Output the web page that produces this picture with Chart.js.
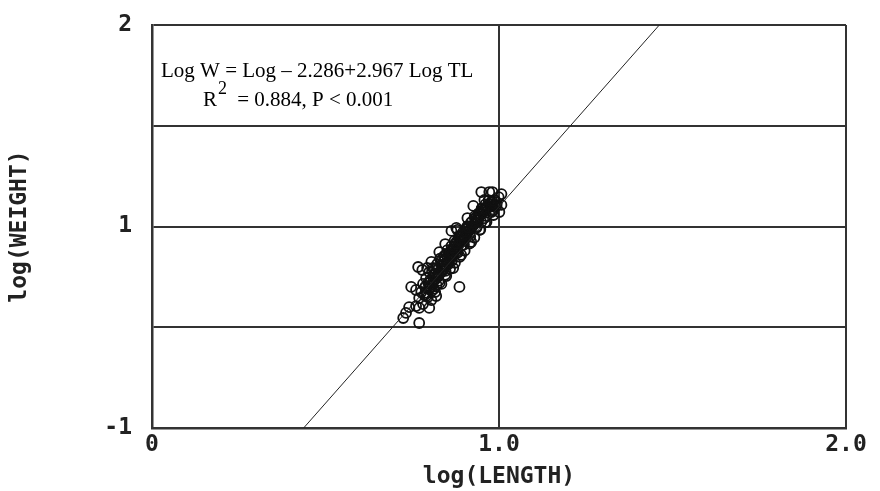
<!DOCTYPE html>
<html>
<head>
<meta charset="utf-8">
<script src="https://cdn.jsdelivr.net/npm/chart.js@4.4.1/dist/chart.umd.min.js"></script>
<style>
  html, body { margin: 0; padding: 0; background: #fff; }
  #wrap { width: 880px; height: 491px; }
</style>
</head>
<body>
<div id="wrap"><canvas id="lw"></canvas></div>
<script>
// observed fish: log(length), log(weight) as plotted
var lenX = [
  0.999, 0.987, 0.975, 0.993, 0.967, 0.955, 0.978, 0.944, 0.964, 0.932,
  0.949, 0.920, 0.909, 0.935, 0.897, 0.915, 0.886, 0.900, 0.877, 0.891,
  0.863, 0.851, 0.877, 0.842, 0.863, 0.834, 0.854, 0.822, 0.810, 0.839,
  0.799, 0.825, 0.790, 0.810, 0.781, 0.834, 0.799, 0.776, 0.816, 0.790,
  0.770, 0.805, 0.781, 0.761, 0.799, 0.819, 0.848, 0.868, 0.891, 0.920,
  0.944, 0.964, 0.984, 1.007, 1.001, 0.972, 0.845, 0.828, 0.805, 0.793,
  0.877, 0.909, 0.926, 0.958, 0.866, 0.848, 0.830, 0.815, 0.872, 0.895,
  0.905, 0.940, 0.858, 0.838, 0.818, 0.802, 0.787, 0.950, 0.980, 0.884,
  0.863, 0.880, 0.906, 0.767, 0.779, 0.747, 0.761, 0.886, 0.741, 0.732,
  0.770, 0.770, 0.724, 0.981, 1.007, 0.949,
  0.785, 0.792, 0.798, 0.803, 0.808, 0.812, 0.818, 0.823, 0.827, 0.831,
  0.836, 0.840, 0.844, 0.849, 0.853, 0.857, 0.861, 0.866, 0.870, 0.874,
  0.879, 0.883, 0.888, 0.893, 0.898, 0.903, 0.908, 0.913, 0.918, 0.923,
  0.928, 0.933, 0.938, 0.943, 0.948, 0.953, 0.958, 0.962, 0.967, 0.972,
  0.977, 0.982, 0.988, 0.994, 0.815, 0.826, 0.838, 0.846, 0.855, 0.864,
  0.872, 0.881, 0.890, 0.899, 0.910, 0.917, 0.930, 0.936, 0.950, 0.957,
  0.970, 0.975, 0.800, 0.795, 0.806, 0.820,
  0.788, 0.796, 0.811, 0.824, 0.833, 0.843, 0.852, 0.860, 0.868, 0.876,
  0.885, 0.894, 0.902, 0.912, 0.921, 0.931, 0.941, 0.952, 0.961, 0.971,
  0.812, 0.829, 0.845, 0.859, 0.873, 0.887, 0.901, 0.915, 0.929, 0.946,
  0.960, 0.983
];
var wtY = [
  1.146, 1.132, 1.112, 1.102, 1.092, 1.082, 1.072, 1.062, 1.052, 1.042,
  1.022, 1.022, 1.002, 0.993, 0.973, 0.963, 0.953, 0.933, 0.923, 0.903,
  0.903, 0.883, 0.873, 0.854, 0.844, 0.834, 0.814, 0.814, 0.794, 0.784,
  0.774, 0.754, 0.744, 0.725, 0.715, 0.715, 0.695, 0.675, 0.675, 0.655,
  0.645, 0.635, 0.615, 0.605, 0.596, 0.655, 0.754, 0.794, 0.859, 0.923,
  0.983, 1.022, 1.057, 1.107, 1.072, 1.171, 0.913, 0.873, 0.824, 0.794,
  0.993, 1.042, 1.102, 1.132, 0.888, 0.860, 0.840, 0.790, 0.930, 0.960,
  0.990, 1.030, 0.850, 0.805, 0.765, 0.735, 0.700, 1.085, 1.125, 0.945,
  0.978, 0.983, 0.973, 0.799, 0.784, 0.700, 0.685, 0.700, 0.600, 0.571,
  0.596, 0.521, 0.546, 1.171, 1.161, 1.171,
  0.660, 0.670, 0.690, 0.700, 0.710, 0.730, 0.740, 0.750, 0.760, 0.770,
  0.780, 0.790, 0.800, 0.810, 0.820, 0.840, 0.850, 0.860, 0.870, 0.880,
  0.890, 0.910, 0.920, 0.930, 0.940, 0.950, 0.960, 0.980, 0.990, 1.000,
  1.010, 1.030, 1.040, 1.050, 1.060, 1.070, 1.080, 1.090, 1.100, 1.110,
  1.120, 1.100, 1.110, 1.120, 0.760, 0.730, 0.810, 0.780, 0.860, 0.830,
  0.900, 0.870, 0.950, 0.910, 0.990, 0.950, 1.050, 1.000, 1.090, 1.040,
  1.130, 1.080, 0.720, 0.650, 0.680, 0.710,
  0.700, 0.720, 0.760, 0.790, 0.810, 0.830, 0.850, 0.875, 0.895, 0.915,
  0.935, 0.955, 0.975, 0.995, 1.020, 1.040, 1.065, 1.090, 1.110, 1.130,
  0.690, 0.720, 0.760, 0.790, 0.820, 0.850, 0.880, 0.915, 0.945, 0.985,
  1.020, 1.080
];

// fitted line end points
var fitX = [0.437, 1.462];
var fitY = [0.0, 2.0];

var xTicks = { 0: '0', 1: '1.0', 2: '2.0' };
var yTicks = { 0: '-1', 1: '1', 2: '2' };

var eqLine1 = 'Log W = Log \u2013 2.286+2.967 Log TL';
var eqLine2 = ' = 0.884, P < 0.001';

var pts = lenX.map(function (x, i) { return { x: x, y: wtY[i] }; });
var fit = fitX.map(function (x, i) { return { x: x, y: fitY[i] }; });

var axisFont = { family: 'DejaVu Sans Mono', size: 23, weight: 'bold' };

var equationBox = {
  id: 'equationBox',
  afterDatasetsDraw: function (chart) {
    var c = chart.ctx;
    c.save();
    c.fillStyle = '#000';
    c.textBaseline = 'alphabetic';
    c.font = '21px "Liberation Serif"';
    c.fillText(eqLine1, 161, 77);
    c.fillText('R', 203, 106);
    c.font = '18px "Liberation Serif"';
    c.fillText('2', 218, 94);
    c.font = '21px "Liberation Serif"';
    c.fillText(eqLine2, 232, 106);
    c.restore();
  }
};

new Chart(document.getElementById('lw'), {
  type: 'scatter',
  data: {
    datasets: [
      {
        label: 'fit',
        type: 'line',
        data: fit,
        borderColor: '#222',
        borderWidth: 1,
        pointRadius: 0,
        fill: false
      },
      {
        label: 'fish',
        data: pts,
        pointRadius: 5,
        pointBorderWidth: 1.8,
        borderColor: '#111',
        backgroundColor: 'rgba(255,255,255,0)'
      }
    ]
  },
  options: {
    responsive: true,
    maintainAspectRatio: false,
    animation: false,
    layout: { padding: { left: 0, top: 25, right: 34, bottom: 0 } },
    plugins: {
      legend: { display: false },
      tooltip: { enabled: false }
    },
    scales: {
      x: {
        type: 'linear',
        min: 0,
        max: 2,
        afterFit: function (s) { s.height = 63; },
        ticks: {
          stepSize: 1,
          padding: 3,
          color: '#222',
          font: axisFont,
          callback: function (v) { return xTicks[v] !== undefined ? xTicks[v] : ''; }
        },
        grid: { color: '#333', lineWidth: 2, drawTicks: false },
        border: { display: true, color: '#333', width: 2.5 },
        title: {
          display: true,
          text: 'log(LENGTH)',
          color: '#222',
          font: axisFont,
          padding: { top: 10, bottom: 0 }
        }
      },
      y: {
        type: 'linear',
        min: 0,
        max: 2,
        afterFit: function (s) {
          s.width = 152;
          s.paddingTop = 0;
          s.paddingBottom = 0;
        },
        ticks: {
          stepSize: 0.5,
          padding: 20,
          color: '#222',
          font: axisFont,
          callback: function (v) { return yTicks[v] !== undefined ? yTicks[v] : ''; }
        },
        grid: { color: '#333', lineWidth: 2, drawTicks: false },
        border: { display: true, color: '#333', width: 2.5 },
        title: {
          display: true,
          text: 'log(WEIGHT)',
          color: '#222',
          font: axisFont,
          padding: { top: 6, bottom: 0 }
        }
      }
    }
  },
  plugins: [equationBox]
});
</script>
</body>
</html>
